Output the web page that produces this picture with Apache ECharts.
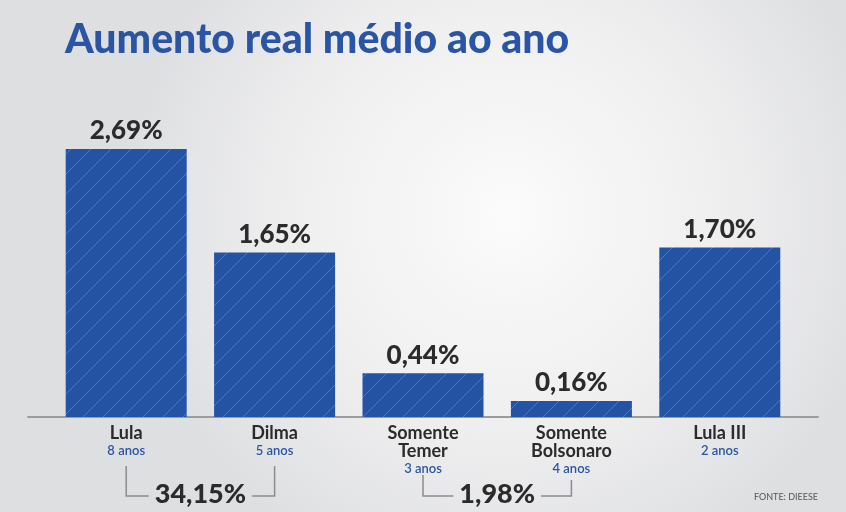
<!DOCTYPE html>
<html>
<head>
<meta charset="utf-8">
<script src="https://cdn.jsdelivr.net/npm/echarts@6/dist/echarts.min.js"></script>
<style>
  html, body { margin: 0; padding: 0; }
  #chart { width: 846px; height: 512px; }
</style>
</head>
<body>
<div id="chart"></div>
<script>
// Average real increase per year, by government
const titleText = 'Aumento real médio ao ano';
const categories = ['Lula', 'Dilma', 'Somente\nTemer', 'Somente\nBolsonaro', 'Lula III'];
const terms = ['8 anos', '5 anos', '3 anos', '4 anos', '2 anos'];
const values = [2.69, 1.65, 0.44, 0.16, 1.70];
// Accumulated increase over consecutive governments (category index pairs)
const bracketPairs = [[0, 1], [2, 3]];
const bracketLabels = ['34,15%', '1,98%'];
const sourceText = 'FONTE: DIEESE';

const FONT = 'Lato, "Noto Sans", sans-serif';
const BLUE = '#2553a3';
const DARK = '#2b2b2b';

// Diagonal hatch fill for the bars
function hatchPattern() {
  const s = 20;
  const c = document.createElement('canvas');
  c.width = s; c.height = s;
  const g = c.getContext('2d');
  g.fillStyle = BLUE;
  g.fillRect(0, 0, s, s);
  g.strokeStyle = 'rgba(120,160,220,0.5)';
  g.lineWidth = 1;
  g.beginPath();
  g.moveTo(-2, s + 2); g.lineTo(s + 2, -2);
  g.stroke();
  return c;
}

const fmtPct = v => v.toFixed(2).replace('.', ',') + '%';

function textWidth(text, font) {
  const g = document.createElement('canvas').getContext('2d');
  g.font = font;
  return g.measureText(text).width;
}

const chart = echarts.init(document.getElementById('chart'), null, { renderer: 'canvas' });

const option = {
  backgroundColor: {
    type: 'radial', x: 0.6, y: 0.42, r: 0.75,
    colorStops: [
      { offset: 0, color: '#fbfbfb' },
      { offset: 0.55, color: '#efeff0' },
      { offset: 1, color: '#dedfe1' }
    ]
  },
  title: {
    text: titleText,
    left: 60, top: 14,
    textStyle: { fontFamily: FONT, fontSize: 41, fontWeight: 900, color: '#2a55a5' }
  },
  grid: [
    { left: 52, right: 52, top: 118, bottom: 95 },
    { left: 28, right: 28, top: 118, bottom: 95 }
  ],
  xAxis: [
    {
      type: 'category', gridIndex: 0, data: categories,
      axisLine: { show: false }, axisTick: { show: false },
      axisLabel: {
        margin: 7, interval: 0,
        formatter: (v, i) => v.split('\n').map(t => '{n|' + t + '}').join('\n') + '\n{s|' + terms[i] + '}',
        rich: {
          n: { fontFamily: FONT, fontSize: 18, fontWeight: 'bold', color: DARK, lineHeight: 18 },
          s: { fontFamily: FONT, fontSize: 13, fontWeight: 600, color: '#2a56a6', lineHeight: 17 }
        }
      }
    },
    {
      type: 'value', gridIndex: 1, min: 0, max: 1,
      axisLine: { show: true, onZero: false, lineStyle: { color: '#9c9c9c', width: 2 } },
      axisTick: { show: false }, axisLabel: { show: false }, splitLine: { show: false }
    }
  ],
  yAxis: [
    { type: 'value', gridIndex: 0, min: 0, max: 3, show: false },
    { type: 'value', gridIndex: 1, min: 0, max: 1, show: false }
  ],
  series: [{
    type: 'bar',
    xAxisIndex: 0, yAxisIndex: 0,
    data: values,
    barWidth: 121,
    itemStyle: { color: { image: hatchPattern(), repeat: 'repeat' } },
    label: {
      show: true, position: 'top', distance: 5,
      formatter: p => fmtPct(p.value),
      fontFamily: FONT, fontSize: 26, fontWeight: 900, color: DARK
    }
  }]
};
chart.setOption(option);

// Brackets under the category labels, anchored on the category positions
function drawBrackets() {
  const elements = [];
  const tops = [[466, 466], [475, 480]];
  const yLine = 496;
  const size = 27;
  bracketPairs.forEach((pair, k) => {
    const x1 = chart.convertToPixel({ xAxisIndex: 0 }, categories[pair[0]]);
    const x2 = chart.convertToPixel({ xAxisIndex: 0 }, categories[pair[1]]);
    const mid = (x1 + x2) / 2;
    const half = textWidth(bracketLabels[k], '900 ' + size + 'px ' + FONT) / 2 + 6;
    const line = { stroke: '#8c8c8c', lineWidth: 1.5, fill: null };
    elements.push({
      type: 'polyline', silent: true,
      shape: { points: [[x1, tops[k][0]], [x1, yLine], [mid - half, yLine]] },
      style: line
    });
    elements.push({
      type: 'polyline', silent: true,
      shape: { points: [[mid + half, yLine], [x2, yLine], [x2, tops[k][1]]] },
      style: line
    });
    elements.push({
      type: 'text', silent: true,
      x: mid, y: yLine - 2,
      style: {
        text: bracketLabels[k], align: 'center', verticalAlign: 'middle',
        fontFamily: FONT, fontSize: size, fontWeight: 900, fill: DARK
      }
    });
  });
  elements.push({
    type: 'text', silent: true, x: 818, y: 497,
    style: { text: sourceText, align: 'right', verticalAlign: 'middle',
      fontFamily: FONT, fontSize: 9, fill: '#555' }
  });
  chart.setOption({ graphic: elements });
}
drawBrackets();
</script>
</body>
</html>
